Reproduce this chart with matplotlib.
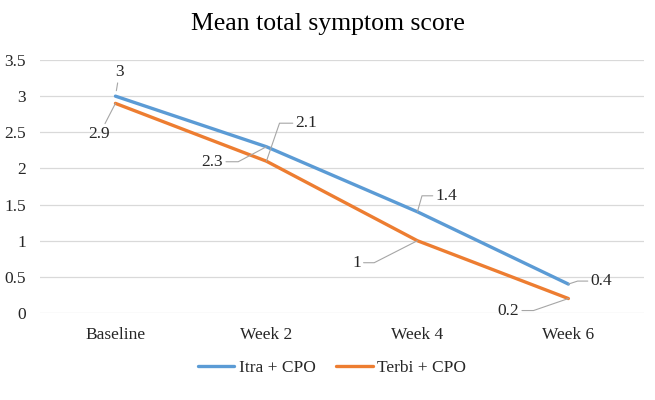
import matplotlib.pyplot as plt

plt.rcParams['font.family'] = ['Liberation Serif', 'DejaVu Serif']

weeks = ["Baseline", "Week 2", "Week 4", "Week 6"]
itra = [3, 2.3, 1.4, 0.4]
terbi = [2.9, 2.1, 1.0, 0.2]
yticks = [0, 0.5, 1, 1.5, 2, 2.5, 3, 3.5]

blue = "#5B9BD5"
orange = "#ED7D31"
txt = "#262626"
fs = 12.5

fig = plt.figure(figsize=(6.55, 4.0), dpi=100)
ax = fig.add_axes([0.061, 0.2175, 0.922, 0.6325])

x = list(range(len(weeks)))
ax.plot(x, itra, color=blue, lw=2.4, label="Itra + CPO", solid_capstyle="round", zorder=3)
ax.plot(x, terbi, color=orange, lw=2.4, label="Terbi + CPO", solid_capstyle="round", zorder=3)

ax.set_xlim(-0.5, len(weeks) - 0.5)
ax.set_ylim(0, 3.5)
ax.set_yticks(yticks)
ax.set_yticklabels([f"{v:g}" for v in yticks])
ax.set_xticks(x)
ax.set_xticklabels(weeks)
ax.grid(axis="y", color="#D9D9D9", lw=0.9)
ax.set_axisbelow(True)
for s in ax.spines.values():
    s.set_visible(False)
ax.tick_params(length=0, labelsize=fs, colors=txt)
ax.tick_params(axis="y", pad=10)
ax.tick_params(axis="x", pad=10)

fig.suptitle("Mean total symptom score", fontsize=18.5, x=0.5, y=0.967, color="black")

# data labels with leader lines: (series, index, text offset px, connection angle, relpos, shrink)
labels = [
    (itra, 0, (4, 24), None, (0.5, 0.5), 4),
    (terbi, 0, (-16, -31), None, (0.5, 0.5), 0),
    (itra, 1, (-54, -15), 28, (1, 0.5), 0),
    (terbi, 1, (40, 38), 71, (0, 0.5), 0),
    (itra, 2, (29, 16), 74, (0, 0.5), 0),
    (terbi, 2, (-61, -22), 27, (1, 0.5), 0),
    (itra, 3, (33, 3), 18, (0, 0.5), 0),
    (terbi, 3, (-60, -12), 19, (1, 0.5), 0),
]
for ser, i, off, ang, rp, shr in labels:
    if ang is None:
        cs = "arc3"
    else:
        cs = f"angle,angleA=0,angleB={ang},rad=0"
    ax.annotate(f"{ser[i]:g}", xy=(i, ser[i]), xytext=off, textcoords="offset pixels",
                ha="center", va="center", fontsize=fs, color=txt,
                arrowprops=dict(arrowstyle="-", color="#A6A6A6", lw=0.8,
                                connectionstyle=cs, relpos=rp,
                                shrinkA=0, shrinkB=shr))

fig.legend(loc="center", bbox_to_anchor=(0.507, 0.08), ncol=2, frameon=False,
           fontsize=fs, handlelength=2.1, handletextpad=0.25, columnspacing=1.2)
for t in fig.legends[0].get_texts():
    t.set_color(txt)

fig.savefig("out.png", dpi=100)
